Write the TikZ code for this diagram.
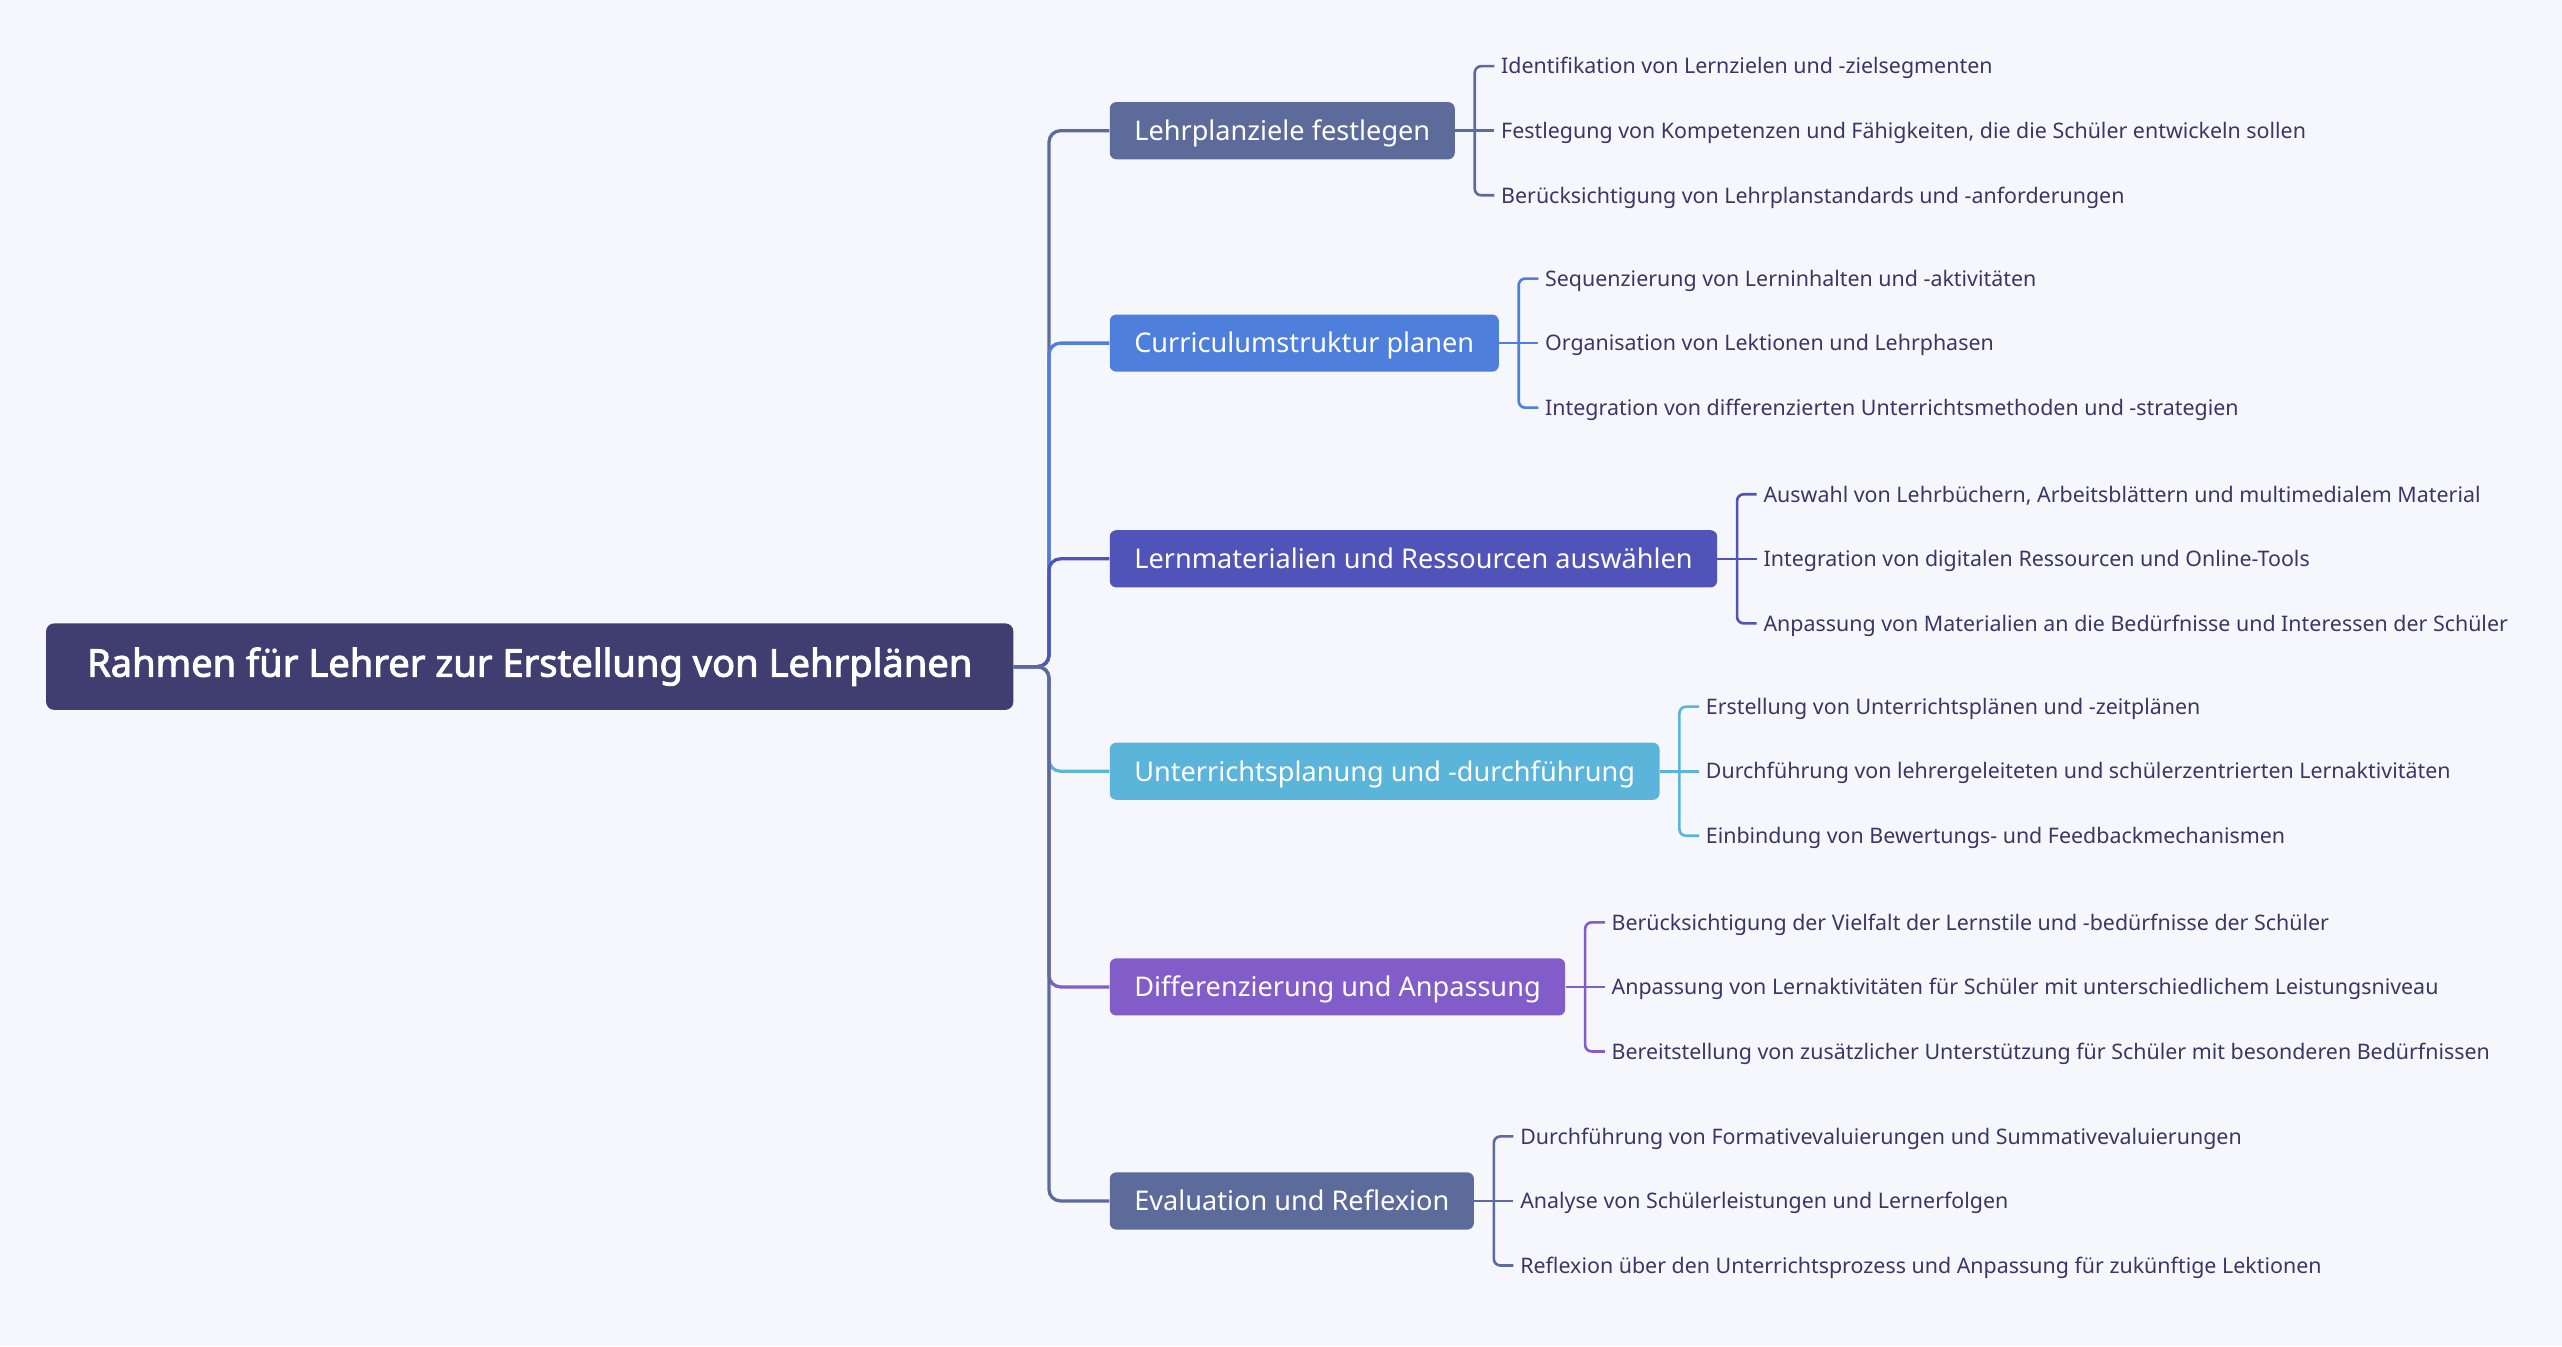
\documentclass[tikz,border=0pt]{standalone}
\usepackage{fontspec}
\setmainfont{Noto Sans}[AutoFakeBold=2.5]
\usetikzlibrary{positioning, calc}

\definecolor{bgcol}{HTML}{F6F7FC}
\definecolor{rootcol}{HTML}{403D70}
\definecolor{slatecol}{HTML}{5D6B9B}
\definecolor{bluecol}{HTML}{4E7FDC}
\definecolor{indigocol}{HTML}{5053B7}
\definecolor{skycol}{HTML}{5BB4D9}
\definecolor{purplecol}{HTML}{825CC9}
\definecolor{leafcol}{HTML}{3B3663}

\begin{document}
\begin{tikzpicture}[
    x=1pt, y=1pt,
    rootbox/.style={rectangle, fill=rootcol, text=white, rounded corners=5pt, anchor=west, minimum width=592pt, minimum height=53pt, font=\fontsize{23.3}{27}\selectfont\bfseries},
    branch/.style={rectangle, rounded corners=4pt, text=white, anchor=west, inner xsep=15pt, inner ysep=0pt, minimum height=35pt, text height=15pt, text depth=3pt, font=\fontsize{16.6}{19}\selectfont},
    leaf/.style={inner sep=0pt, anchor=west, text=leafcol, text height=9.5pt, text depth=0pt, font=\fontsize{13.1}{15}\selectfont},
    trunk/.style={line width=2pt, rounded corners=7pt},
    brace/.style={line width=1.6pt, rounded corners=4pt}
]
\fill[bgcol] (0,0) rectangle (1568,-824);
\useasboundingbox (0,0) rectangle (1568,-824);

% root and main branches
\node[rootbox] (root) at (28,-408) {Rahmen für Lehrer zur Erstellung von Lehrplänen};
\node[branch, fill=slatecol] (b1) at (679,-80) {Lehrplanziele festlegen};
\node[branch, fill=bluecol] (b2) at (679,-210) {Curriculumstruktur planen};
\node[branch, fill=indigocol] (b3) at (679,-342) {Lernmaterialien und Ressourcen auswählen};
\node[branch, fill=skycol] (b4) at (679,-472) {Unterrichtsplanung und -durchführung};
\node[branch, fill=purplecol] (b5) at (679,-604) {Differenzierung und Anpassung};
\node[branch, fill=slatecol] (b6) at (679,-735) {Evaluation und Reflexion};

% leaves
\node[leaf, right=28pt of b1] (l1b) {Festlegung von Kompetenzen und Fähigkeiten, die die Schüler entwickeln sollen};
\node[leaf] (l1a) at ([yshift=39.5pt]l1b.west) {Identifikation von Lernzielen und -zielsegmenten};
\node[leaf] (l1c) at ([yshift=-39.5pt]l1b.west) {Berücksichtigung von Lehrplanstandards und -anforderungen};

\node[leaf, right=28pt of b2] (l2b) {Organisation von Lektionen und Lehrphasen};
\node[leaf] (l2a) at ([yshift=39.5pt]l2b.west) {Sequenzierung von Lerninhalten und -aktivitäten};
\node[leaf] (l2c) at ([yshift=-39.5pt]l2b.west) {Integration von differenzierten Unterrichtsmethoden und -strategien};

\node[leaf, right=28pt of b3] (l3b) {Integration von digitalen Ressourcen und Online-Tools};
\node[leaf] (l3a) at ([yshift=39.5pt]l3b.west) {Auswahl von Lehrbüchern, Arbeitsblättern und multimedialem Material};
\node[leaf] (l3c) at ([yshift=-39.5pt]l3b.west) {Anpassung von Materialien an die Bedürfnisse und Interessen der Schüler};

\node[leaf, right=28pt of b4] (l4b) {Durchführung von lehrergeleiteten und schülerzentrierten Lernaktivitäten};
\node[leaf] (l4a) at ([yshift=39.5pt]l4b.west) {Erstellung von Unterrichtsplänen und -zeitplänen};
\node[leaf] (l4c) at ([yshift=-39.5pt]l4b.west) {Einbindung von Bewertungs- und Feedbackmechanismen};

\node[leaf, right=28pt of b5] (l5b) {Anpassung von Lernaktivitäten für Schüler mit unterschiedlichem Leistungsniveau};
\node[leaf] (l5a) at ([yshift=39.5pt]l5b.west) {Berücksichtigung der Vielfalt der Lernstile und -bedürfnisse der Schüler};
\node[leaf] (l5c) at ([yshift=-39.5pt]l5b.west) {Bereitstellung von zusätzlicher Unterstützung für Schüler mit besonderen Bedürfnissen};

\node[leaf, right=28pt of b6] (l6b) {Analyse von Schülerleistungen und Lernerfolgen};
\node[leaf] (l6a) at ([yshift=39.5pt]l6b.west) {Durchführung von Formativevaluierungen und Summativevaluierungen};
\node[leaf] (l6c) at ([yshift=-39.5pt]l6b.west) {Reflexion über den Unterrichtsprozess und Anpassung für zukünftige Lektionen};

% trunk connectors
\draw[trunk, slatecol] (root.east) -| ([xshift=-37pt]b1.west) -- (b1.west);
\draw[trunk, bluecol] (root.east) -| ([xshift=-37pt]b2.west) -- (b2.west);
\draw[trunk, indigocol] (root.east) -| ([xshift=-37pt]b3.west) -- (b3.west);
\draw[trunk, skycol] (root.east) -| ([xshift=-37pt]b4.west) -- (b4.west);
\draw[trunk, purplecol] (root.east) -| ([xshift=-37pt]b5.west) -- (b5.west);
\draw[trunk, slatecol] (root.east) -| ([xshift=-37pt]b6.west) -- (b6.west);

% brackets
\draw[brace, slatecol] ([xshift=-4pt]l1a.west) -| ([xshift=-16pt]l1c.west) -- ([xshift=-4pt]l1c.west);
\draw[brace, slatecol] (b1.east) -- ([xshift=-4pt]l1b.west);
\draw[brace, bluecol] ([xshift=-4pt]l2a.west) -| ([xshift=-16pt]l2c.west) -- ([xshift=-4pt]l2c.west);
\draw[brace, bluecol] (b2.east) -- ([xshift=-4pt]l2b.west);
\draw[brace, indigocol] ([xshift=-4pt]l3a.west) -| ([xshift=-16pt]l3c.west) -- ([xshift=-4pt]l3c.west);
\draw[brace, indigocol] (b3.east) -- ([xshift=-4pt]l3b.west);
\draw[brace, skycol] ([xshift=-4pt]l4a.west) -| ([xshift=-16pt]l4c.west) -- ([xshift=-4pt]l4c.west);
\draw[brace, skycol] (b4.east) -- ([xshift=-4pt]l4b.west);
\draw[brace, purplecol] ([xshift=-4pt]l5a.west) -| ([xshift=-16pt]l5c.west) -- ([xshift=-4pt]l5c.west);
\draw[brace, purplecol] (b5.east) -- ([xshift=-4pt]l5b.west);
\draw[brace, slatecol] ([xshift=-4pt]l6a.west) -| ([xshift=-16pt]l6c.west) -- ([xshift=-4pt]l6c.west);
\draw[brace, slatecol] (b6.east) -- ([xshift=-4pt]l6b.west);
\end{tikzpicture}
\end{document}
